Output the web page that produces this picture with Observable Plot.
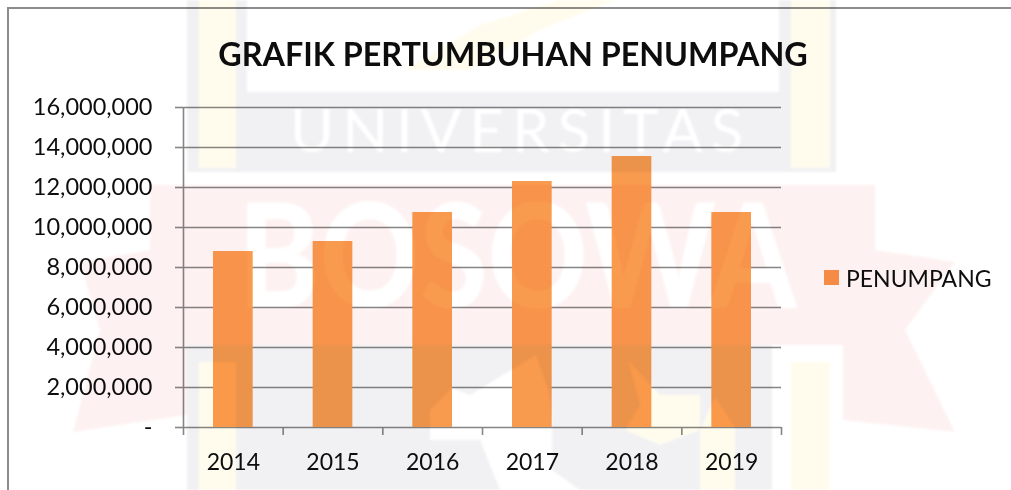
<!DOCTYPE html>
<html><head><meta charset="utf-8">
<script src="https://cdn.jsdelivr.net/npm/d3@7"></script>
<script src="https://cdn.jsdelivr.net/npm/@observablehq/plot@0.6"></script>
<style>
html,body{margin:0;background:#fff;width:1011px;height:490px;overflow:hidden}
#wrap{position:relative;width:1011px;height:490px;font-family:Lato,"Noto Sans",sans-serif;color:#0d0d0d;overflow:hidden}
#frame{position:absolute;left:7px;top:7px;right:-5px;bottom:-5px;border:2px solid #8c8c8c}
h1{position:absolute;left:0;width:1026px;top:34px;margin:0;text-align:center;font-size:32.3px;line-height:40px;font-weight:700}
#legend{position:absolute;left:824px;top:263px;font-size:23px;line-height:30px;white-space:nowrap}
#legend i{position:absolute;left:0;top:7px;width:15px;height:15px;background:#f8934a}
#legend span{margin-left:22px}
svg{position:absolute;left:0;top:0;overflow:visible}
#wm{background:#fff;mix-blend-mode:multiply;pointer-events:none;overflow:hidden;z-index:5;font-family:Lato,"Noto Sans",sans-serif;filter:blur(1.2px)}
#wm div{position:absolute}
.g{background:#f1f1f4}.y{background:#fffcee}.w{background:#fff}.r{background:#fdf2f1}
.p{left:0;top:0;width:1011px;height:490px}
#wm .t{color:#fff;line-height:1;white-space:nowrap;transform-origin:0 0}
</style></head><body>
<div id="wrap"><div id="frame"></div>
<h1>GRAFIK PERTUMBUHAN PENUMPANG</h1>
<div id="legend"><i></i><span>PENUMPANG</span></div>
</div>
<div id="wm" style="position:absolute;left:0;top:0;width:1011px;height:490px" aria-hidden="true">
  <div class="g" style="left:187px;top:0;width:649px;height:172px"></div>
  <div class="w" style="left:247px;top:0;width:532px;height:92px"></div>
  <div class="y" style="left:199px;top:0;width:37px;height:168px"></div>
  <div class="y" style="left:791px;top:0;width:39px;height:168px"></div>
  <div class="y p" style="clip-path:polygon(405px 70px,480px 25px,560px 0,616px 0,540px 30px,470px 70px)"></div>
  <div class="t" style="left:290px;top:99px;font-size:60px;letter-spacing:8px;font-weight:400">UNIVERSITAS</div>
  <div class="r p" style="clip-path:polygon(150px 185px,875px 185px,875px 250px,955px 262px,905px 330px,955px 432px,843px 420px,843px 345px,187px 345px,187px 415px,73px 432px,100px 330px,80px 262px,150px 250px)"></div>
  <div class="t" style="left:238px;top:180px;font-size:145px;font-weight:900;transform:scaleX(.85)">BOSOWA</div>
  <div class="g" style="left:187px;top:345px;width:585px;height:145px"></div>
  <div class="y" style="left:199px;top:362px;width:37px;height:128px"></div>
  <div class="y" style="left:791px;top:362px;width:39px;height:128px"></div>
  <div class="w p" style="clip-path:polygon(430px 410px,452px 388px,470px 395px,536px 355px,550px 395px,552px 427px,552px 470px,580px 490px,500px 490px,480px 440px,430px 440px)"></div>
  <div class="y p" style="clip-path:polygon(625px 430px,640px 405px,628px 360px,660px 395px,700px 395px,700px 430px,660px 445px)"></div>
  <div class="y p" style="clip-path:polygon(700px 430px,715px 397px,735px 427px,735px 490px,700px 490px)"></div>
</div>
<script>
const years=[2014,2015,2016,2017,2018,2019];
const penumpang=[8800000,9300000,10750000,12300000,13550000,10750000];
const yTicks=[0,2000000,4000000,6000000,8000000,10000000,12000000,14000000,16000000];
const xBoundaries=[2013.5,2014.5,2015.5,2016.5,2017.5,2018.5,2019.5];
const rows=years.map((y,i)=>({year:y,value:penumpang[i]}));
const grey="#858585";
const chart=Plot.plot({
  width:1011,height:490,marginLeft:183,marginRight:230,marginTop:107,marginBottom:63,
  style:{background:"transparent",fontFamily:"Lato,'Noto Sans',sans-serif",color:"#0d0d0d"},
  x:{domain:[2013.5,2019.5]},
  y:{domain:[0,16000000]},
  marks:[
    Plot.ruleY(yTicks,{stroke:grey,strokeWidth:1.6,strokeOpacity:1}),
    Plot.rectY(rows,{x1:d=>d.year-0.5,x2:d=>d.year+0.5,y:"value",insetLeft:30,insetRight:30,fill:"#f99b4e"}),
    Plot.ruleX([2013.5],{stroke:grey,strokeWidth:1.6}),
    Plot.axisY({ticks:yTicks,tickSize:8,tickPadding:23,stroke:grey,strokeWidth:1.6,strokeOpacity:1,fontSize:23.5,label:null,
      tickFormat:d=>d===0?"-":d3.format(",")(d)}),
    Plot.axisX({ticks:xBoundaries,tickSize:8,stroke:grey,strokeWidth:1.6,strokeOpacity:1,label:null,tickFormat:()=>""}),
    Plot.axisX({ticks:years,tickSize:0,tickPadding:26,fontSize:23,label:null,tickFormat:d=>String(d)})
  ]
});
document.getElementById("wrap").appendChild(chart);
</script>
</body></html>
